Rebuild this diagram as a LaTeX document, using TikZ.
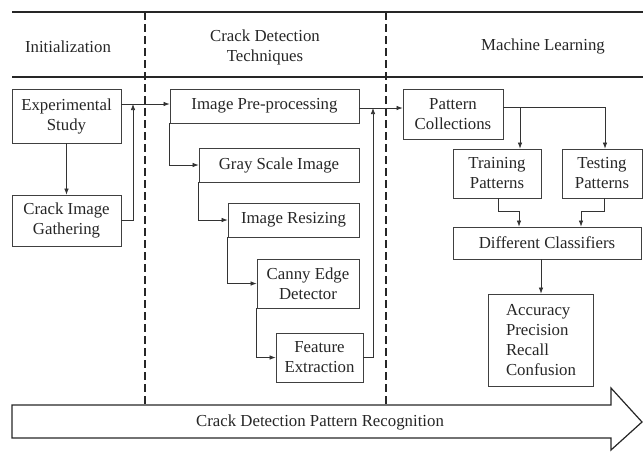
\documentclass[tikz,border=0pt]{standalone}
\usepackage{fontspec}
\setmainfont{Liberation Serif}
\usepackage{tikz}
\usetikzlibrary{arrows.meta}
\newcommand{\fs}{\fontsize{16.8}{20}\selectfont}
\tikzset{
  box/.style={draw=black!75,line width=0.8pt,inner sep=0pt,align=center,font=\fs,text=black!85},
  arr/.style={draw=black!80,line width=0.7pt,-{Latex[length=6pt,width=4.5pt]}},
  lnk/.style={draw=black!80,line width=0.7pt},
  lane/.style={draw=black!85,line width=1.5pt,dash pattern=on 8pt off 4pt}
}

\begin{document}
\begin{tikzpicture}[x=1pt,y=-1pt]
    \useasboundingbox (0,0) rectangle (643,451);
    % header
    \draw[black!85,line width=1.4pt] (12,12)--(643,12);
    \draw[black!85,line width=1.4pt] (12,77)--(643,77);
    \draw[lane] (145,12)--(145,405);
    \draw[lane] (386,12)--(386,405);
    \node[font=\fs,text=black!85] (hinit) at (68,47) {Initialization};
    \node[font=\fs,text=black!85,align=center] (hcrack) at (265,47) {Crack Detection\\Techniques};
    \node[font=\fs,text=black!85] (hml) at (543,46) {Machine Learning};
    % initialization
    \node[box,minimum width=109pt,minimum height=54pt] (exp) at (66.5,116) {Experimental\\Study};
    \node[box,minimum width=109pt,minimum height=51pt] (gath) at (66.5,220.5) {Crack Image\\Gathering};
    % crack detection techniques
    \node[box,minimum width=189pt,minimum height=34pt] (pre) at (264.5,106) {Image Pre-processing};
    \node[box,minimum width=160pt,minimum height=34pt] (gray) at (279,165) {Gray Scale Image};
    \node[box,minimum width=131pt,minimum height=34pt] (resize) at (293.5,220) {Image Resizing};
    \node[box,minimum width=102pt,minimum height=49pt] (canny) at (308,283.5) {Canny Edge\\Detector};
    \node[box,minimum width=87pt,minimum height=49pt] (feat) at (319.5,357.5) {Feature\\Extraction};
    % machine learning
    \node[box,minimum width=100pt,minimum height=50pt] (pat) at (453,114) {Pattern\\Collections};
    \node[box,minimum width=88pt,minimum height=49pt] (train) at (497,173.5) {Training\\Patterns};
    \node[box,minimum width=80pt,minimum height=49pt] (test) at (602,173.5) {Testing\\Patterns};
    \node[box,minimum width=188pt,minimum height=32pt] (cls) at (547,243) {Different Classifiers};
    \node[box,minimum width=105pt,minimum height=92pt,align=left] (acc) at (541,340) {Accuracy\\Precision\\Recall\\Confusion};
    % connectors
    \coordinate (j1) at (133,104);
    \coordinate (j2) at (373,108);
    \coordinate (t1) at (520,107);
    \coordinate (t2) at (605,107);
    \coordinate (m1) at (498,211);
    \coordinate (m2) at (604,211);
    \coordinate (n1) at (519,211);
    \coordinate (n2) at (581,211);
    \draw[arr] (exp.south)--(gath.north);
    \draw[arr] (exp.east |- j1)--(j1 -| pre.west);
    \draw[arr] (gath.east) -| (j1);
    \draw[arr] (pre.south west) |- (gray.west);
    \draw[arr] (gray.south west) |- (resize.west);
    \draw[arr] (resize.south west) |- (canny.west);
    \draw[arr] (canny.south west) |- (feat.west);
    \draw[arr] (pre.east |- j2)--(j2 -| pat.west);
    \draw[arr] (feat.east) -| (j2);
    \draw[lnk] (pat.east |- t1)--(t2);
    \draw[arr] (t1)--(t1 |- train.north);
    \draw[arr] (t2)--(t2 |- test.north);
    \draw[arr] (m1 |- train.south)--(m1)--(n1)--(n1 |- cls.north);
    \draw[arr] (m2 |- test.south)--(m2)--(n2)--(n2 |- cls.north);
    \draw[arr] (acc.north |- cls.south)--(acc.north);
    % bottom arrow
    \draw[black!85,line width=1.2pt] (12,405)--(611,405)--(611,388)--(642,422)--(611,450)--(611,438)--(12,438)--cycle;
    \node[font=\fs,text=black!85] (bar) at (320,422) {Crack Detection Pattern Recognition};
\end{tikzpicture}
\end{document}
